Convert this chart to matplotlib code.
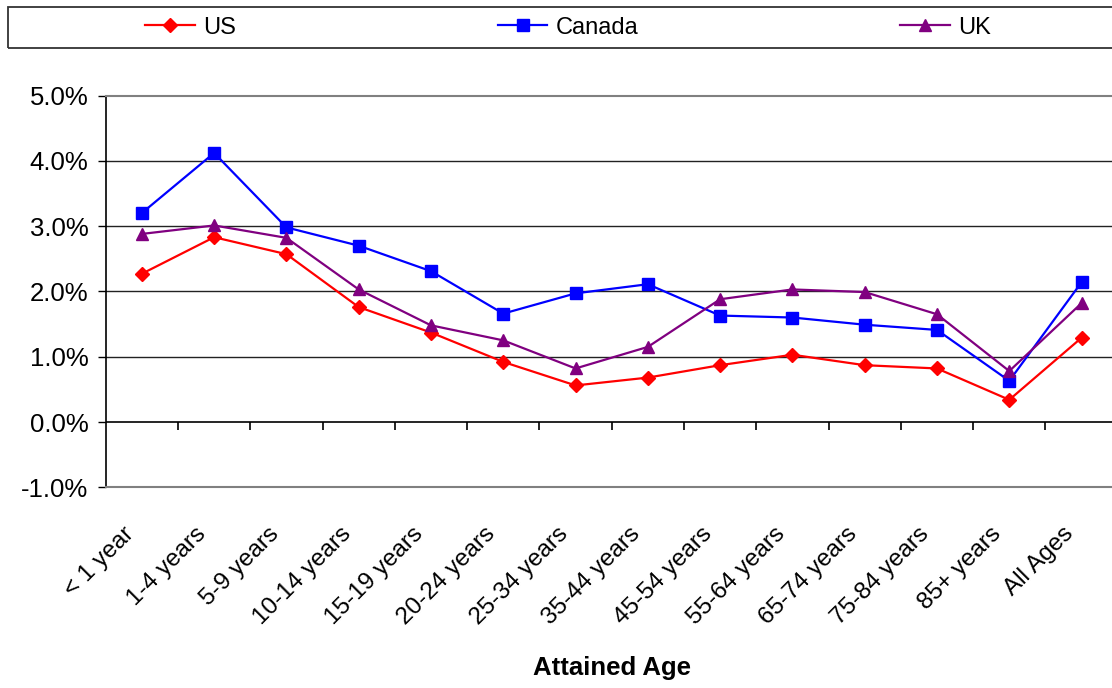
import matplotlib
matplotlib.use("Agg")
import matplotlib.pyplot as plt
from matplotlib.patches import Rectangle
from matplotlib.ticker import FuncFormatter
import matplotlib.transforms as mtransforms

plt.rcParams['font.family'] = ['Liberation Sans', 'DejaVu Sans']

categories = ["< 1 year", "1-4 years", "5-9 years", "10-14 years", "15-19 years",
              "20-24 years", "25-34 years", "35-44 years", "45-54 years",
              "55-64 years", "65-74 years", "75-84 years", "85+ years", "All Ages"]
us = [2.27, 2.83, 2.57, 1.76, 1.37, 0.92, 0.56, 0.68, 0.87, 1.03, 0.87, 0.82, 0.34, 1.29]
canada = [3.20, 4.12, 2.98, 2.70, 2.31, 1.66, 1.97, 2.11, 1.63, 1.60, 1.49, 1.41, 0.63, 2.14]
uk = [2.88, 3.01, 2.82, 2.03, 1.48, 1.25, 0.82, 1.15, 1.88, 2.03, 1.99, 1.65, 0.78, 1.82]
y_ticks = [-1, 0, 1, 2, 3, 4, 5]

W, H = 1112, 688
fig = plt.figure(figsize=(W / 100, H / 100), dpi=100)
ax = fig.add_axes([105.7 / W, 1 - 487.3 / H, 1012 / W, (487.3 - 95.5) / H])

x = list(range(len(categories)))
l1, = ax.plot(x, us, color='#FF0000', lw=1.6, marker='D', markersize=7.5, label='US', zorder=3)
l2, = ax.plot(x, canada, color='#0000FF', lw=1.6, marker='s', markersize=8, label='Canada', zorder=3)
l3, = ax.plot(x, uk, color='#800080', lw=1.6, marker='^', markersize=9, label='UK', zorder=3)

ax.set_xlim(-0.5, len(categories) - 0.5)
ax.set_ylim(-1, 5)
ax.set_yticks(y_ticks)
ax.yaxis.set_major_formatter(FuncFormatter(lambda v, p: f"{v:.1f}%"))
ax.tick_params(axis='y', direction='out', length=5.5, width=1, pad=7, labelsize=18.5, color='black')

# grid lines
for v in y_ticks[2:-1]:
    ax.axhline(v, color='#222222', lw=1, zorder=1)
# category axis at 0
ax.axhline(0, color='black', lw=1.2, zorder=2)
ax.vlines([i + 0.5 for i in x], 0, -0.13, color='black', lw=1.2, zorder=2, clip_on=False)

ax.set_xticks(x)
ax.set_xticklabels(categories, rotation=45, ha='right', va='center', rotation_mode='anchor', fontsize=17.5)
ax.tick_params(axis='x', length=0, pad=31)
offset = mtransforms.ScaledTranslation(-11 / 100, 0, fig.dpi_scale_trans)
for lab in ax.get_xticklabels():
    lab.set_transform(lab.get_transform() + offset)

for s in ['top', 'right', 'bottom']:
    ax.spines[s].set_color('#808080')
    ax.spines[s].set_linewidth(1.5)
ax.spines['left'].set_color('black')
ax.spines['left'].set_linewidth(1.2)

ax.set_xlabel("Attained Age", fontsize=18.5, fontweight='bold')
ax.xaxis.set_label_coords(0.5, (668 - 487.3) / -(487.3 - 95.5), transform=ax.transAxes)
ax.xaxis.label.set_va('center')

# legend frame
fig.patches.append(Rectangle((8 / W, 1 - 48 / H), 1.1, 41 / H, transform=fig.transFigure,
                             fill=False, edgecolor='#333333', lw=1.3, figure=fig))
fig.legend(handles=[l1, l2, l3], loc='center left', bbox_to_anchor=(145 / W, 1 - 27.5 / H),
           ncol=3, frameon=False, fontsize=17, handlelength=2.1, handletextpad=0.35,
           columnspacing=11.1, borderpad=0, borderaxespad=0, markerscale=1.0)

fig.savefig("out.png", dpi=100)
